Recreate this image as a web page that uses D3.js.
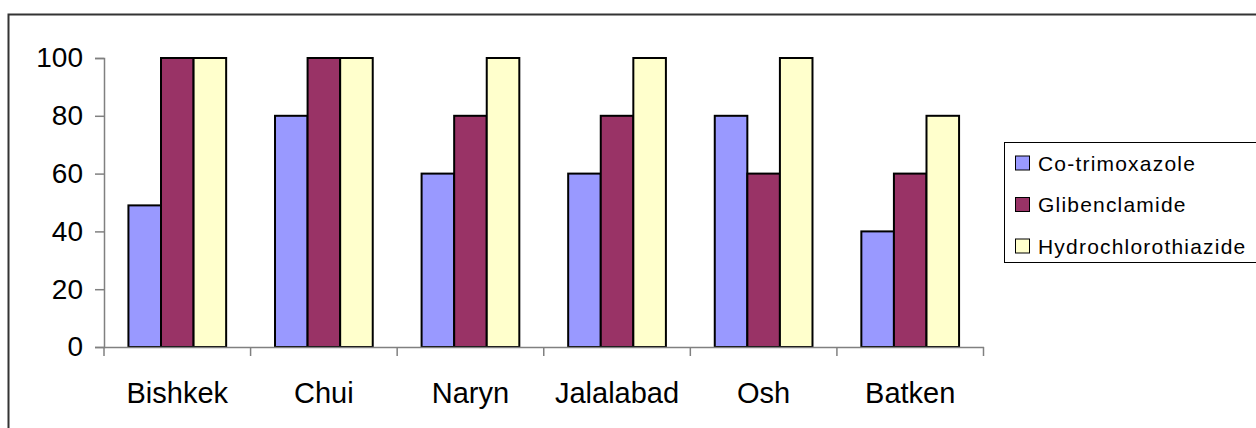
<!DOCTYPE html>
<html><head><meta charset="utf-8">
<script src="https://cdn.jsdelivr.net/npm/d3@7"></script>
<style>html,body{margin:0;padding:0;background:#fff;overflow:hidden}</style>
</head><body>
<svg id="c" width="1256" height="428"></svg>
<script>
const categories = ["Bishkek","Chui","Naryn","Jalalabad","Osh","Batken"];
const seriesNames = ["Co-trimoxazole","Glibenclamide","Hydrochlorothiazide"];
const coTrimoxazole = [49,80,60,60,80,40];
const glibenclamide = [100,100,80,80,60,60];
const hydrochlorothiazide = [100,100,100,100,100,80];
const yTicks = [0,20,40,60,80,100];
const colors = ["#9999FF","#993366","#FFFFCC"];
const seriesValues = [coTrimoxazole, glibenclamide, hydrochlorothiazide];

const svg = d3.select("#c");
const font = "'Liberation Sans', Arial, sans-serif";

// outer border
svg.append("rect").attr("x",8.5).attr("y",14.5).attr("width",1270).attr("height",440)
  .attr("fill","none").attr("stroke","#333").attr("stroke-width",2);

const pLeft=104, pRight=983.5, pTop=58, pBottom=347;
const x = d3.scaleBand().domain(categories).range([pLeft,pRight]).paddingInner(0).paddingOuter(0);
const y = d3.scaleLinear().domain([0,100]).range([pBottom,pTop]);
const groupPad = 1.5; // Excel gap width 150%
const bw = x.bandwidth()/(3+groupPad);
const xs = d3.scaleBand().domain(seriesNames).range([bw*groupPad/2, bw*groupPad/2+3*bw]);

// bars
seriesNames.forEach((s,i)=>{
  svg.append("g").selectAll("rect").data(categories).join("rect")
    .attr("x",c=>x(c)+xs(s))
    .attr("y",(c,j)=>y(seriesValues[i][j]))
    .attr("width",xs.bandwidth())
    .attr("height",(c,j)=>pBottom-y(seriesValues[i][j]))
    .attr("fill",colors[i]).attr("stroke","#000").attr("stroke-width",2);
});

// y axis
const ya = svg.append("g").attr("transform",`translate(${pLeft},0)`)
  .call(d3.axisLeft(y).tickValues(yTicks).tickSize(9).tickPadding(12));
ya.select(".domain").attr("stroke","#808080").attr("stroke-width",1.5);
ya.selectAll(".tick line").attr("stroke","#808080").attr("stroke-width",1.5);
ya.selectAll("text").attr("font-family",font).attr("font-size",28).attr("fill","#000");

// x axis
const xa = svg.append("g").attr("transform",`translate(0,${pBottom})`)
  .call(d3.axisBottom(x).tickSize(0).tickPadding(35));
xa.select(".domain").attr("stroke","#808080").attr("stroke-width",1.5);
xa.selectAll("text").attr("font-family",font).attr("font-size",29).attr("fill","#000");
const bounds = categories.map(c=>x(c)).concat([x(categories[categories.length-1])+x.bandwidth()]);
svg.append("g").selectAll("line").data(bounds).join("line")
  .attr("x1",d=>d).attr("x2",d=>d).attr("y1",pBottom).attr("y2",pBottom+9)
  .attr("stroke","#808080").attr("stroke-width",1.5);

// legend
const lg = svg.append("g");
lg.append("rect").attr("x",1004.5).attr("y",142.5).attr("width",300).attr("height",120)
  .attr("fill","#fff").attr("stroke","#000").attr("stroke-width",1);
seriesNames.forEach((s,i)=>{
  const cy = 163 + i*41.5;
  lg.append("rect").attr("x",1015.5).attr("y",cy-7).attr("width",14).attr("height",14)
    .attr("fill",colors[i]).attr("stroke","#000").attr("stroke-width",1);
  lg.append("text").attr("x",1038).attr("y",cy).attr("dy","0.36em")
    .attr("font-family",font).attr("font-size",21).attr("letter-spacing",1.2)
    .attr("fill","#000").text(s);
});
</script>
</body></html>
